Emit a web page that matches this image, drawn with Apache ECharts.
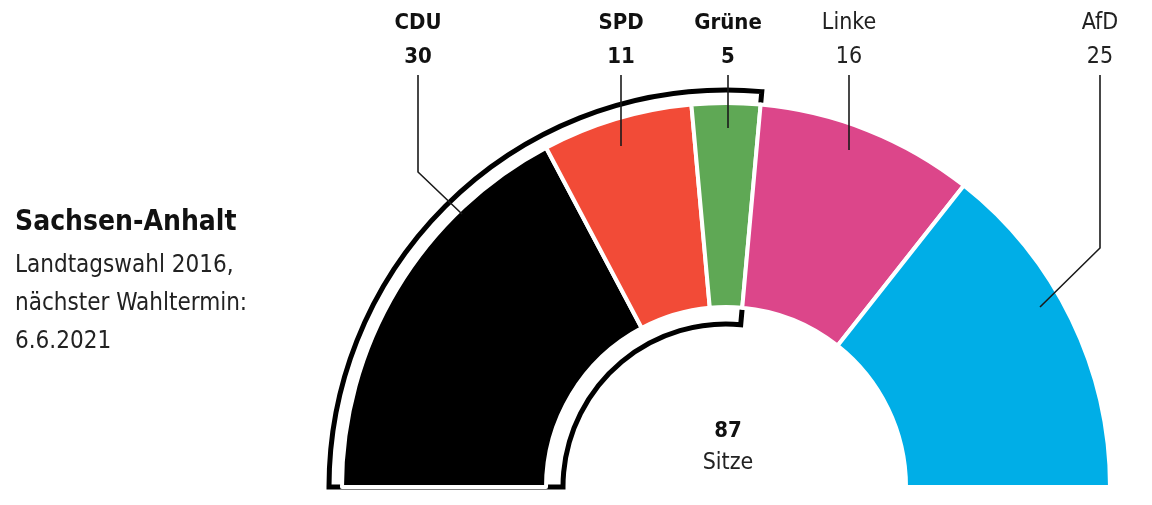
<!DOCTYPE html>
<html>
<head>
<meta charset="utf-8">
<script src="https://cdn.jsdelivr.net/npm/echarts@6/dist/echarts.min.js"></script>
<style>
  html, body { margin: 0; padding: 0; background: #fff; }
  #chart { width: 1152px; height: 505px; }
</style>
</head>
<body>
<div id="chart"></div>
<script>
// Landtag Sachsen-Anhalt, seats after the 2016 election
const parties = ['CDU', 'SPD', 'Grüne', 'Linke', 'AfD'];
const seats = [30, 11, 5, 16, 25];
const coalition = ['CDU', 'SPD', 'Grüne'];
const partyColors = ['#000000', '#f24b37', '#5fa855', '#dc468a', '#00aee7'];

const FONT = '"Liberation Sans Narrow", "DejaVu Sans Condensed", "Roboto Condensed", sans-serif';

// label anchor x positions and leader line ends (annotation layout only)
const labelX = [418, 621, 728, 849, 1100];
const leaders = [
  [[418, 75], [418, 172], [462, 214]],
  [[621, 75], [621, 146]],
  [[728, 75], [728, 128]],
  [[849, 75], [849, 150]],
  [[1100, 75], [1100, 248], [1040, 307]]
];

const totalSeats = seats.reduce((a, b) => a + b, 0);
const coalitionSeats = seats.filter((s, i) => coalition.includes(parties[i])).reduce((a, b) => a + b, 0);

const chartDom = document.getElementById('chart');
const myChart = echarts.init(chartDom);

const center = [726, 487];

const option = {
  animation: false,
  textStyle: { fontFamily: FONT },
  title: [
    {
      text: 'Sachsen-Anhalt',
      subtext: 'Landtagswahl 2016,\nnächster Wahltermin:\n6.6.2021',
      left: 10,
      top: 200,
      itemGap: 6,
      textStyle: { fontFamily: FONT, fontSize: 28, fontWeight: 'bold', color: '#111', lineHeight: 36 },
      subtextStyle: { fontFamily: FONT, fontSize: 24, color: '#222', lineHeight: 38 }
    },
    {
      text: String(totalSeats),
      subtext: 'Sitze',
      left: 723,
      top: 411,
      textAlign: 'center',
      itemGap: 2,
      textStyle: { fontFamily: FONT, fontSize: 22, fontWeight: 'bold', color: '#111', lineHeight: 30 },
      subtextStyle: { fontFamily: FONT, fontSize: 23, color: '#222', lineHeight: 30 }
    }
  ],
  graphic: leaders.map(pts => ({
    type: 'polyline',
    z: 100,
    silent: true,
    shape: { points: pts },
    style: { stroke: '#1a1a1a', lineWidth: 1.6, fill: null }
  })),
  series: [
    {
      // outline around the governing coalition
      type: 'pie',
      silent: true,
      center: center,
      radius: [163, 397],
      startAngle: 180,
      endAngle: 0,
      clockwise: true,
      label: { show: false },
      labelLine: { show: false },
      data: [
        { value: coalitionSeats, itemStyle: { color: 'rgba(0,0,0,0)', borderColor: '#000', borderWidth: 5, borderJoin: 'miter' } },
        { value: totalSeats - coalitionSeats, itemStyle: { color: 'rgba(0,0,0,0)', borderWidth: 0 } }
      ]
    },
    {
      type: 'pie',
      center: center,
      radius: [180, 384],
      startAngle: 180,
      endAngle: 0,
      clockwise: true,
      itemStyle: { borderColor: '#fff', borderWidth: 4 },
      label: {
        show: true,
        position: 'outside',
        align: 'center',
        overflow: 'none',
        width: 120,
        formatter: p => coalition.includes(p.name)
          ? '{b|' + p.name + '}\n{b|' + p.value + '}'
          : '{n|' + p.name + '}\n{n|' + p.value + '}',
        rich: {
          b: { fontFamily: FONT, fontSize: 22, fontWeight: 'bold', color: '#111', lineHeight: 34, align: 'center' },
          n: { fontFamily: FONT, fontSize: 23, color: '#222', lineHeight: 34, align: 'center' }
        }
      },
      labelLine: { show: false },
      labelLayout: params => ({
        x: labelX[params.dataIndex],
        y: 6,
        align: 'center',
        verticalAlign: 'top'
      }),
      data: parties.map((name, i) => ({
        name: name,
        value: seats[i],
        itemStyle: { color: partyColors[i] }
      }))
    }
  ]
};

myChart.setOption(option);
</script>
</body>
</html>
